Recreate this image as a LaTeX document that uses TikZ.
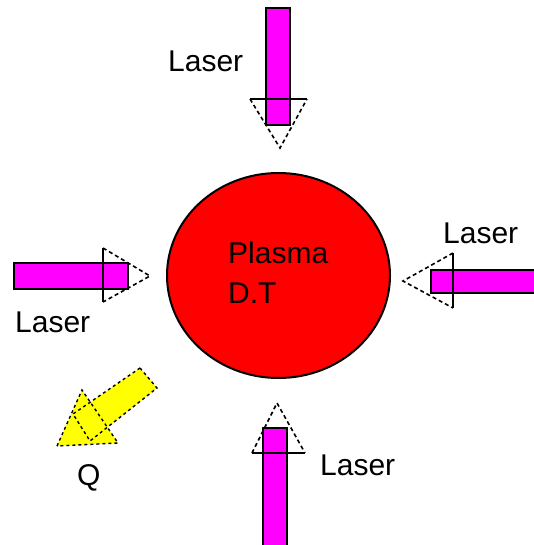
\documentclass[tikz,border=0pt]{standalone}
\usepackage{fontspec}
\setmainfont{Liberation Sans}
\usetikzlibrary{shapes.geometric}
\definecolor{beamcol}{RGB}{255,0,255}
\definecolor{qcol}{RGB}{255,255,0}
\definecolor{plasmacol}{RGB}{255,0,0}
\tikzset{
  lbl/.style={inner sep=0pt, anchor=base west, font=\fontsize{30}{34}\selectfont},
  beam/.style={fill=beamcol, draw=black, line width=1.2pt},
  headbase/.style={draw=black, line width=1.5pt},
  headside/.style={draw=black, line width=1.6pt, dash pattern=on 4pt off 3pt},
  qfill/.style={fill=qcol},
  qline/.style={draw=black, line width=1.4pt, dash pattern=on 3pt off 3pt}
}
\begin{document}
\begin{tikzpicture}[x=1pt,y=-1pt]
\useasboundingbox (0,0) rectangle (533,545);
% plasma
\node[ellipse, draw=black, line width=2pt, fill=plasmacol, minimum width=223pt, minimum height=205pt, inner sep=0pt] (plasma) at (278.5,275.5) {};
\node[lbl] (ptext) at (228,263) {Plasma};
\node[lbl] (dt) at (228,303) {D.T};
% top laser
\draw[headside] (250,99) -- (280,148) -- (307,99);
\draw[beam] (266,8) rectangle (290,125);
\draw[headbase] (250,99) -- (307,99);
\node[lbl] (ltop) at (168,72) {Laser};
% left laser
\draw[headside] (103,248) -- (150,276) -- (103,302);
\draw[beam] (14,263) rectangle (128,289);
\draw[headbase] (103,248) -- (103,302);
\node[lbl] (lleft) at (15,332) {Laser};
% right laser
\draw[headside] (453,253) -- (403,281) -- (453,308);
\draw[beam] (431,270) rectangle (540,293);
\draw[headbase] (453,253) -- (453,308);
\node[lbl] (lright) at (443,243) {Laser};
% bottom laser
\draw[headside] (252,453) -- (277,403) -- (305,453);
\draw[beam] (263,428) rectangle (287,550);
\draw[headbase] (252,453) -- (305,453);
\node[lbl] (lbottom) at (320,475) {Laser};
% Q arrow
\fill[qfill] (57,446) -- (82,390) -- (118,443) -- cycle;
\fill[qfill] (140,368) -- (157,388) -- (90,441) -- (73,414) -- cycle;
\draw[qline] (57,446) -- (82,390) -- (118,443) -- cycle;
\draw[qline] (140,368) -- (157,388) -- (90,441) -- (73,414) -- cycle;
\node[lbl] (q) at (77,485) {Q};
\end{tikzpicture}
\end{document}
